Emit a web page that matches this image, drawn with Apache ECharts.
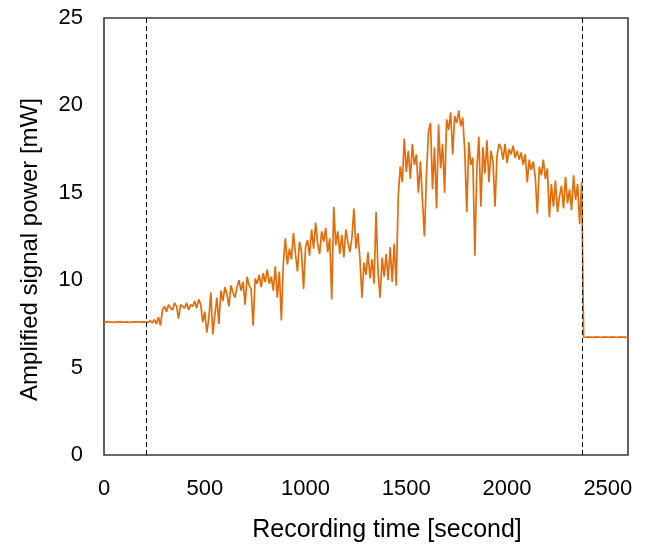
<!DOCTYPE html>
<html>
<head>
<meta charset="utf-8">
<script src="https://cdn.jsdelivr.net/npm/echarts@6/dist/echarts.min.js"></script>
<style>
html, body { margin: 0; padding: 0; background: #fff; }
#chart { width: 647px; height: 549px; }
</style>
</head>
<body>
<div id="chart"></div>
<script>
// sampling: one reading every 10 s, starting at 0 s
var startTime = 0;
var timeStep = 10;

// amplified signal power [mW]
var power = [
  // 0 - 210 s, idle
  7.62,7.6,7.63,7.6,7.61,7.58,7.62,7.6,7.63,7.6,7.6,7.62,7.6,7.58,7.62,7.6,7.63,7.6,7.6,7.62,7.6,7.61,
  // 220 - 290
  7.6,7.7,7.55,7.75,7.5,7.9,7.4,8.3,
  // 300 - 470
  8.5,8.2,8.6,8.4,8.3,8.7,8.5,7.8,8.6,8.5,8.4,8.7,8.3,8.6,8.5,8.8,8.4,8.9,
  // 480 - 550
  8.6,7.6,8.2,7.0,7.8,9.3,6.9,8.0,
  // 560 - 650
  9.0,7.5,9.4,8.8,9.6,9.2,8.5,9.7,9.3,9.0,
  // 660 - 820
  9.6,10.0,9.4,9.9,8.6,10.2,9.7,9.5,7.4,10.1,9.8,10.3,9.6,10.4,9.9,10.6,9.8,
  // 830 - 890
  10.2,9.4,10.8,9.0,10.5,7.7,11.0,
  // 900 - 1000
  12.4,10.9,11.8,11.2,12.7,11.5,10.5,12.2,11.6,9.5,11.9,
  // 1010 - 1130
  12.3,11.4,12.9,11.8,13.3,12.1,11.5,12.8,12.2,13.0,11.6,12.4,8.9,
  // 1140 - 1270
  14.2,12.0,12.8,11.5,12.6,11.3,12.9,12.2,11.6,12.4,14.1,11.8,12.7,11.2,
  // 1280 - 1400
  9.0,11.0,10.3,11.6,10.1,11.2,9.8,13.9,10.4,9.0,11.3,10.2,11.5,
  // 1410 - 1460
  10.0,11.9,9.9,12.1,9.7,14.8,
  // 1470 - 1540
  16.5,15.6,18.1,16.2,17.4,15.8,17.8,16.6,
  // 1550 - 1620
  17.2,15.0,16.8,14.6,12.5,16.0,18.5,19.0,
  // 1630 - 1690
  15.2,17.6,14.1,18.9,16.4,17.8,15.0,
  // 1700 - 1780
  19.2,18.6,19.6,17.2,19.4,19.0,19.7,18.8,19.3,
  // 1790 - 1840
  17.4,13.9,17.9,16.6,17.0,11.4,
  // 1850 - 1960
  16.4,18.2,14.2,17.6,16.1,18.0,15.6,17.4,16.8,14.2,17.1,17.8,
  // 1970 - 2070
  17.6,16.9,17.8,16.7,17.5,17.2,17.7,17.0,17.4,16.9,17.3,
  // 2080 - 2120
  16.6,17.2,15.6,16.9,16.3,
  // 2130 - 2200
  16.8,15.9,13.8,16.5,16.0,16.9,15.8,16.4,
  // 2210 - 2260
  13.6,15.5,14.2,15.7,13.9,14.8,
  // 2270 - 2370
  15.4,14.1,15.9,14.4,15.2,14.0,16.0,14.6,15.5,13.2,15.6,
  // 2380 - 2600, idle
  6.75,6.72,6.76,6.74,6.75,6.73,6.76,6.74,6.75,6.72,6.76,6.74,6.75,6.73,6.76,6.74,6.75,6.72,6.76,6.74,6.75,6.73,6.75
];

// recording start / end markers [second]
var markerTimes = [210, 2375];

var xTicks = { min: 0, max: 2600, interval: 500 };
var yTicks = { min: 0, max: 25, interval: 5 };

var seriesData = [];
for (var i = 0; i < power.length; i++) {
  seriesData.push([startTime + i * timeStep, power[i]]);
}

var font = 'Liberation Sans, Arial, sans-serif';
var myChart = echarts.init(document.getElementById('chart'));
var option = {
  animation: false,
  grid: {
    left: 104,
    right: 19,
    top: 18,
    bottom: 94,
    show: true,
    borderColor: '#3a3a3a',
    borderWidth: 1.6,
    backgroundColor: 'transparent'
  },
  xAxis: {
    type: 'value',
    min: xTicks.min,
    max: xTicks.max,
    interval: xTicks.interval,
    name: 'Recording time [second]',
    nameLocation: 'middle',
    nameGap: 63,
    nameTextStyle: { color: '#000', fontSize: 25, fontFamily: font, padding: [0, 0, 0, 42] },
    axisLine: { show: false },
    axisTick: { show: false },
    splitLine: { show: false },
    axisLabel: { color: '#000', fontSize: 22, fontFamily: font, margin: 23,
      showMaxLabel: false,
      formatter: function (v) { return String(v); } }
  },
  yAxis: {
    type: 'value',
    min: yTicks.min,
    max: yTicks.max,
    interval: yTicks.interval,
    name: 'Amplified signal power [mW]',
    nameLocation: 'middle',
    nameGap: 62,
    nameTextStyle: { color: '#000', fontSize: 24, fontFamily: font, padding: [0, 26, 0, 0] },
    axisLine: { show: false },
    axisTick: { show: false },
    splitLine: { show: false },
    axisLabel: { color: '#000', fontSize: 22, fontFamily: font, margin: 21 }
  },
  series: [
    {
      type: 'line',
      data: seriesData,
      showSymbol: false,
      symbol: 'none',
      lineStyle: { color: '#E46C0A', width: 1.7 },
      markLine: {
        silent: true,
        symbol: 'none',
        label: { show: false },
        lineStyle: { color: '#000', type: [5, 3], width: 1 },
        data: markerTimes.map(function (t) { return { xAxis: t }; })
      }
    }
  ]
};
myChart.setOption(option);
</script>
</body>
</html>
